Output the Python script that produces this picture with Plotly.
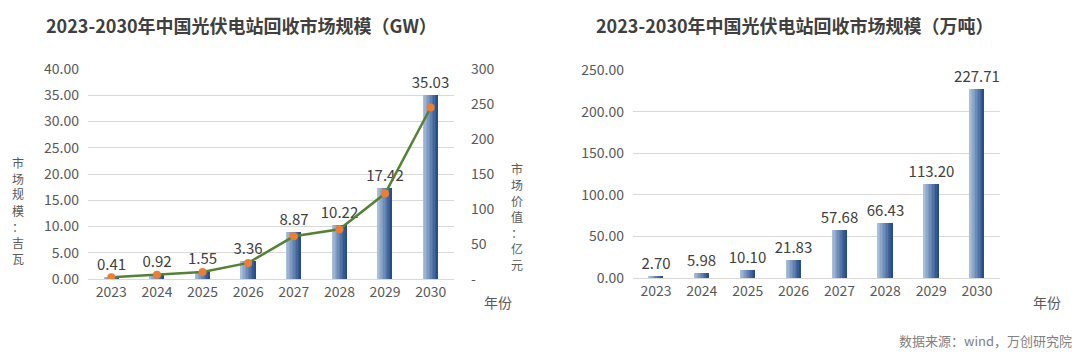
import plotly.graph_objects as go

years = ["2023", "2024", "2025", "2026", "2027", "2028", "2029", "2030"]
capacity_gw = [0.41, 0.92, 1.55, 3.36, 8.87, 10.22, 17.42, 35.03]
value_yi = [2.5, 6.0, 10.0, 23.0, 61.0, 71.0, 122.0, 245.0]
tonnage_wt = [2.70, 5.98, 10.10, 21.83, 57.68, 66.43, 113.20, 227.71]

y2_tickvals = [0, 50, 100, 150, 200, 250, 300]
y2_ticktext = ["-", "50", "100", "150", "200", "250", "300"]

FONT = "Noto Sans CJK SC"
W, H = 1080, 359
BAR_W = 0.32
N_SLICES = 10
light = (170, 192, 218)
dark = (38, 78, 140)

fig = go.Figure()


def add_gradient_bars(x, y, xa, ya):
    for i in range(N_SLICES):
        t = i / (N_SLICES - 1)
        c = tuple(round(light[k] + (dark[k] - light[k]) * t) for k in range(3))
        fig.add_trace(go.Bar(
            x=x, y=y, xaxis=xa, yaxis=ya,
            width=BAR_W / N_SLICES + 0.002,
            offset=-BAR_W / 2 + i * BAR_W / N_SLICES,
            marker=dict(color="rgb(%d,%d,%d)" % c, line=dict(width=0)),
            showlegend=False, hoverinfo="skip",
        ))
    lbl = dict(family=FONT, size=15, color="#404040")
    fig.add_trace(go.Bar(
        x=x, y=y, xaxis=xa, yaxis=ya, width=BAR_W,
        marker=dict(color="rgba(0,0,0,0)", line=dict(width=0)),
        text=["%.2f" % v for v in y], textposition="outside",
        textfont=lbl, outsidetextfont=lbl, constraintext="none",
        cliponaxis=False, showlegend=False,
    ))


add_gradient_bars(years, capacity_gw, "x", "y")
fig.add_trace(go.Scatter(
    x=years, y=value_yi, xaxis="x", yaxis="y2", mode="lines+markers",
    line=dict(color="#548235", width=2.5),
    marker=dict(color="#ed7d31", size=8),
    showlegend=False,
))
add_gradient_bars(years, tonnage_wt, "x2", "y3")

tickfont = dict(family=FONT, size=14, color="#595959")
grid = "#d9d9d9"
ydom = [1 - 279 / H, 1 - 69 / H]

fig.update_layout(
    width=W, height=H,
    margin=dict(l=0, r=0, t=0, b=0, autoexpand=False),
    paper_bgcolor="white", plot_bgcolor="white",
    barmode="overlay", bargap=0,
    font=dict(family=FONT),
    xaxis=dict(domain=[88 / W, 454 / W], tickfont=tickfont, showgrid=False,
               showline=True, linecolor=grid, linewidth=1, ticks="",
               automargin=False),
    yaxis=dict(domain=ydom, range=[0, 40], dtick=5, tickformat=".2f",
               tickfont=tickfont, gridcolor=grid, gridwidth=1, zeroline=False,
               ticklabelstandoff=8, automargin=False),
    yaxis2=dict(overlaying="y", side="right", range=[0, 300],
                tickvals=y2_tickvals, ticktext=y2_ticktext,
                tickfont=tickfont, showgrid=False, zeroline=False,
                ticklabelstandoff=16, automargin=False),
    xaxis2=dict(domain=[633 / W, 1000 / W], anchor="y3", tickfont=tickfont,
                showgrid=False, showline=True, linecolor=grid, linewidth=1,
                ticks="", automargin=False),
    yaxis3=dict(domain=[1 - 278 / H, 1 - 70 / H], anchor="x2", range=[0, 250],
                dtick=50, tickformat=".2f", tickfont=tickfont, gridcolor=grid,
                gridwidth=1, zeroline=False, ticklabelstandoff=8,
                automargin=False),
)

ann = []
def text(x, y, s, size=14, color="#595959", xanchor="center", yanchor="middle"):
    ann.append(dict(x=x / W, y=1 - y / H, xref="paper", yref="paper", text=s,
                    showarrow=False, xanchor=xanchor, yanchor=yanchor,
                    borderpad=0,
                    font=dict(family=FONT, size=size, color=color)))

def vtext(x, y_top, s, step=16, size=12):
    for i, ch in enumerate(s):
        text(x, y_top + i * step, ch, size=size)

text(241, 25, "<b>2023-2030年中国光伏电站回收市场规模（GW）</b>", size=18, color="#404040")
text(795, 25, "<b>2023-2030年中国光伏电站回收市场规模（万吨）</b>", size=18, color="#404040")
vtext(18, 162, "市场规模：吉瓦")
vtext(517, 168, "市场价值：亿元")
text(498, 302, "年份", size=14)
text(1047, 302, "年份", size=14)
text(1073, 340, "数据来源：wind，万创研究院", size=13, color="#808080", xanchor="right")
fig.update_layout(annotations=ann)

fig.write_html("out.html", config={"displayModeBar": False},
               post_script="document.body.style.margin='0';document.body.style.overflow='hidden';")
